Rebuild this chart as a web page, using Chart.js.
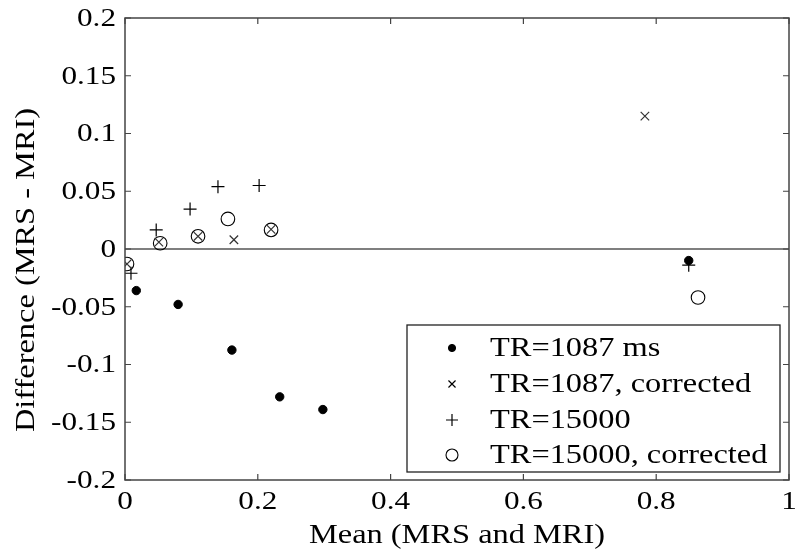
<!DOCTYPE html>
<html>
<head>
<meta charset="utf-8">
<script src="https://cdn.jsdelivr.net/npm/chart.js@4/dist/chart.umd.min.js"></script>
<style>
html,body{margin:0;padding:0;background:#fff;}
#wrap{width:800px;height:550px;}
</style>
</head>
<body>
<div id="wrap"><canvas id="c" width="800" height="550"></canvas></div>
<script>
// ---- data ----
const meanTR1087 = [0.017, 0.080, 0.161, 0.233, 0.298, 0.849];
const diffTR1087 = [-0.036, -0.048, -0.0875, -0.128, -0.139, -0.010];

const meanTR1087c = [0.003, 0.051, 0.110, 0.164, 0.220, 0.783];
const diffTR1087c = [-0.013, 0.006, 0.011, 0.008, 0.017, 0.115];

const meanTR15000 = [0.009, 0.047, 0.098, 0.140, 0.202, 0.849];
const diffTR15000 = [-0.021, 0.0165, 0.0346, 0.054, 0.055, -0.014];

const meanTR15000c = [0.003, 0.053, 0.110, 0.155, 0.220, 0.863];
const diffTR15000c = [-0.013, 0.005, 0.011, 0.026, 0.0165, -0.042];

const seriesLabels = ["TR=1087 ms", "TR=1087, corrected", "TR=15000", "TR=15000, corrected"];

const xTickValues = [0, 0.2, 0.4, 0.6, 0.8, 1];
const xTickLabels = ["0", "0.2", "0.4", "0.6", "0.8", "1"];
const yTickValues = [-0.2, -0.15, -0.1, -0.05, 0, 0.05, 0.1, 0.15, 0.2];
const yTickLabels = ["-0.2", "-0.15", "-0.1", "-0.05", "0", "0.05", "0.1", "0.15", "0.2"];

const xTitle = "Mean (MRS and MRI)";
const yTitle = "Difference (MRS - MRI)";

// ---- helpers ----
function pts(xs, ys){ return xs.map((x,i)=>({x:x, y:ys[i]})); }
const FONT = '"Liberation Serif", "Times New Roman", serif';
const SX = 1.2; // horizontal stretch of the reference's lettering
const AXIS_COLOR = '#444';

function sText(ctx, txt, x, y, align, size){
  ctx.save();
  ctx.translate(x, y);
  ctx.scale(SX, 1);
  ctx.font = size + 'px ' + FONT;
  ctx.textAlign = align;
  ctx.textBaseline = 'middle';
  ctx.fillStyle = '#000';
  ctx.fillText(txt, 0, 0);
  ctx.restore();
}

const styles = [
  {pointStyle:'circle',   radius:4.2, legendRadius:3.6, fill:true,  borderWidth:1},
  {pointStyle:'crossRot', radius:6,   legendRadius:5,   fill:false, borderWidth:1.2},
  {pointStyle:'cross',    radius:6.5, legendRadius:6,   fill:false, borderWidth:1.2},
  {pointStyle:'circle',   radius:6.8, legendRadius:6,   fill:false, borderWidth:1.1}
];

const axesPlugin = {
  id: 'axesPlugin',
  beforeDatasetsDraw(chart){
    const ctx = chart.ctx, a = chart.chartArea, ys = chart.scales.y;
    const y0 = ys.getPixelForValue(0);
    ctx.save();
    ctx.strokeStyle = '#555';
    ctx.lineWidth = 1.5;
    ctx.beginPath();
    ctx.moveTo(a.left, y0); ctx.lineTo(a.right, y0);
    ctx.stroke();
    ctx.restore();
  },
  afterDraw(chart){
    const ctx = chart.ctx, a = chart.chartArea;
    const xs = chart.scales.x, ys = chart.scales.y;
    ctx.save();
    // box
    ctx.strokeStyle = AXIS_COLOR;
    ctx.lineWidth = 1.5;
    ctx.strokeRect(a.left, a.top, a.right - a.left, a.bottom - a.top);
    // inward ticks
    const TL = 6;
    ctx.lineWidth = 1.2;
    ctx.beginPath();
    xTickValues.forEach(v=>{
      const px = xs.getPixelForValue(v);
      ctx.moveTo(px, a.bottom); ctx.lineTo(px, a.bottom - TL);
      ctx.moveTo(px, a.top); ctx.lineTo(px, a.top + TL);
    });
    yTickValues.forEach(v=>{
      const py = ys.getPixelForValue(v);
      ctx.moveTo(a.left, py); ctx.lineTo(a.left + TL, py);
      ctx.moveTo(a.right, py); ctx.lineTo(a.right - TL, py);
    });
    ctx.stroke();
    ctx.restore();

    // tick labels
    xTickValues.forEach((v,i)=>{
      sText(ctx, xTickLabels[i], xs.getPixelForValue(v), a.bottom + 22, 'center', 26);
    });
    yTickValues.forEach((v,i)=>{
      sText(ctx, yTickLabels[i], a.left - 9, ys.getPixelForValue(v) + 1, 'right', 26);
    });

    // axis titles
    sText(ctx, xTitle, (a.left + a.right)/2, 536, 'center', 27);
    ctx.save();
    ctx.translate(27, 270);
    ctx.rotate(-Math.PI/2);
    ctx.scale(SX, 1);
    ctx.font = '27px ' + FONT;
    ctx.textAlign = 'center';
    ctx.textBaseline = 'middle';
    ctx.fillStyle = '#000';
    ctx.fillText(yTitle, 0, 0);
    ctx.restore();

    // legend
    const lx = 407, ly = 325, lw = 373, lh = 147;
    ctx.save();
    ctx.fillStyle = '#fff';
    ctx.fillRect(lx, ly, lw, lh);
    ctx.strokeStyle = '#222';
    ctx.lineWidth = 1.3;
    ctx.strokeRect(lx, ly, lw, lh);
    ctx.restore();
    const rows = [348, 384, 420, 455];
    seriesLabels.forEach((lab, i)=>{
      const st = styles[i];
      ctx.save();
      ctx.strokeStyle = '#000';
      ctx.fillStyle = st.fill ? '#000' : 'rgba(0,0,0,0)';
      ctx.lineWidth = st.borderWidth;
      Chart.helpers.drawPoint(ctx, {pointStyle: st.pointStyle, radius: st.legendRadius, rotation: 0, borderWidth: st.borderWidth}, 452, rows[i]);
      ctx.restore();
      sText(ctx, lab, 490, rows[i] + 1, 'left', 27);
    });
  }
};

const allData = [
  pts(meanTR1087, diffTR1087),
  pts(meanTR1087c, diffTR1087c),
  pts(meanTR15000, diffTR15000),
  pts(meanTR15000c, diffTR15000c)
];

new Chart(document.getElementById('c'), {
  type: 'scatter',
  data: {
    datasets: allData.map((d, i)=>({
      label: seriesLabels[i],
      data: d,
      pointStyle: styles[i].pointStyle,
      pointRadius: styles[i].radius,
      pointHoverRadius: styles[i].radius,
      pointBorderWidth: styles[i].borderWidth,
      borderColor: i === 1 ? '#333' : '#000',
      backgroundColor: styles[i].fill ? '#000' : 'rgba(0,0,0,0)',
      showLine: false
    }))
  },
  options: {
    responsive: false,
    animation: false,
    devicePixelRatio: 1,
    layout: { padding: { left: 125, top: 18, right: 11, bottom: 70 } },
    plugins: { legend: { display: false }, tooltip: { enabled: false } },
    scales: {
      x: { type: 'linear', min: 0, max: 1, display: false },
      y: { type: 'linear', min: -0.2, max: 0.2, display: false }
    }
  },
  plugins: [axesPlugin]
});
</script>
</body>
</html>
